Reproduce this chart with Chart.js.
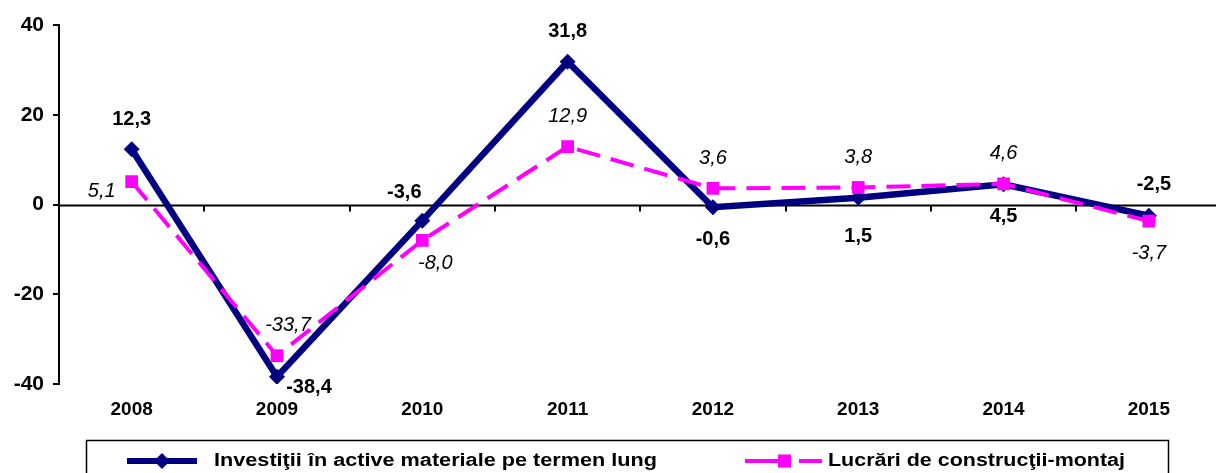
<!DOCTYPE html>
<html>
<head>
<meta charset="utf-8">
<script src="https://cdn.jsdelivr.net/npm/chart.js@4.4.0/dist/chart.umd.min.js"></script>
<style>
  html, body { margin: 0; padding: 0; background: #fff; }
  #wrap { width: 1216px; height: 473px; }
</style>
</head>
<body>
<div id="wrap"><canvas id="chart" width="1216" height="473"></canvas></div>
<script>
const years = ['2008', '2009', '2010', '2011', '2012', '2013', '2014', '2015'];
const investitii = [12.3, -38.4, -3.6, 31.8, -0.6, 1.5, 4.5, -2.5];
const lucrari = [5.1, -33.7, -8.0, 12.9, 3.6, 3.8, 4.6, -3.7];
const yTicks = [-40, -20, 0, 20, 40];

const seriesNames = ['Investiţii în active materiale pe termen lung', 'Lucrări de construcţii-montaj'];

// where each value label sits relative to its point
const investPlace = ['top', 'right', 'topLeft', 'top', 'bottom', 'bottomFar', 'bottom', 'topR'];
const lucrariPlace = ['left', 'topRight', 'bottomRight', 'top', 'top', 'top', 'top', 'bottom'];

const NAVY = '#000080';
const MAGENTA = '#FF00FF';
const FONT = "'Liberation Sans', Arial, sans-serif";

const offsets = {
    top: [0, -30], topR: [5, -31], bottom: [0, 32], bottomFar: [0, 39],
    left: [-30, 10], right: [32, 11], topLeft: [-18, -28],
    topRight: [11, -30], bottomRight: [13, 23]
};

const fmt = v => v.toFixed(1).replace('.', ',');
const toPoints = arr => arr.map((v, i) => ({ x: i, y: v }));

const zeroLine = {
    id: 'zeroLine',
    beforeDatasetsDraw(chart) {
        const { ctx, chartArea, scales } = chart;
        const y0 = Math.round(scales.y.getPixelForValue(0)) + 0.5;
        ctx.save();
        ctx.strokeStyle = '#000';
        ctx.lineWidth = 2;
        ctx.beginPath();
        ctx.moveTo(chartArea.left, y0);
        ctx.lineTo(chart.width, y0);
        for (let i = 1; i < years.length; i++) {
            const x = Math.round(scales.x.getPixelForValue(i - 0.5));
            ctx.moveTo(x, y0);
            ctx.lineTo(x, y0 + 6);
        }
        ctx.stroke();
        ctx.restore();
    }
};

const valueLabels = {
    id: 'valueLabels',
    afterDatasetsDraw(chart) {
        const { ctx } = chart;
        const setups = [
            { values: investitii, place: investPlace, font: 'bold 20px ' + FONT },
            { values: lucrari, place: lucrariPlace, font: 'italic 20px ' + FONT }
        ];
        ctx.save();
        ctx.fillStyle = '#000';
        ctx.textAlign = 'center';
        ctx.textBaseline = 'middle';
        setups.forEach((s, di) => {
            const meta = chart.getDatasetMeta(di);
            ctx.font = s.font;
            meta.data.forEach((pt, i) => {
                const [dx, dy] = offsets[s.place[i]];
                ctx.fillText(fmt(s.values[i]), pt.x + dx, pt.y + dy);
            });
        });
        ctx.restore();
    }
};

const boxLegend = {
    id: 'boxLegend',
    afterDraw(chart) {
        const { ctx } = chart;
        const ly = 461;
        ctx.save();
        ctx.strokeStyle = '#000';
        ctx.lineWidth = 1.5;
        ctx.strokeRect(86.5, 440.5, 1082, 40);

        // first entry
        ctx.strokeStyle = NAVY;
        ctx.lineWidth = 6;
        ctx.beginPath();
        ctx.moveTo(127, ly);
        ctx.lineTo(197, ly);
        ctx.stroke();
        ctx.fillStyle = NAVY;
        ctx.beginPath();
        ctx.moveTo(162, ly - 8);
        ctx.lineTo(170, ly);
        ctx.lineTo(162, ly + 8);
        ctx.lineTo(154, ly);
        ctx.closePath();
        ctx.fill();

        // second entry
        ctx.strokeStyle = MAGENTA;
        ctx.lineWidth = 4;
        ctx.beginPath();
        ctx.moveTo(745, ly);
        ctx.lineTo(790, ly);
        ctx.moveTo(799, ly);
        ctx.lineTo(822, ly);
        ctx.stroke();
        ctx.fillStyle = MAGENTA;
        ctx.fillRect(778, ly - 6.5, 13, 13);

        ctx.fillStyle = '#000';
        ctx.font = 'bold 18px ' + FONT;
        ctx.textBaseline = 'middle';
        ctx.textAlign = 'left';
        const drawStretched = (text, x, targetW) => {
            const w = ctx.measureText(text).width;
            ctx.save();
            ctx.translate(x, ly);
            ctx.scale(targetW / w, 1);
            ctx.fillText(text, 0, 0);
            ctx.restore();
        };
        drawStretched(seriesNames[0], 214, 443);
        drawStretched(seriesNames[1], 828, 297);
        ctx.restore();
    }
};

new Chart(document.getElementById('chart'), {
    type: 'line',
    data: {
        datasets: [
            {
                label: seriesNames[0],
                data: toPoints(investitii),
                borderColor: NAVY,
                backgroundColor: NAVY,
                borderWidth: 6.5,
                pointStyle: 'rectRot',
                pointRadius: 8,
                pointBackgroundColor: NAVY,
                pointBorderWidth: 0,
                tension: 0,
                order: 1
            },
            {
                label: seriesNames[1],
                data: toPoints(lucrari),
                borderColor: MAGENTA,
                backgroundColor: MAGENTA,
                borderWidth: 4,
                borderDash: [24, 11],
                pointStyle: 'rect',
                pointRadius: 9,
                pointBackgroundColor: MAGENTA,
                pointBorderWidth: 0,
                tension: 0,
                order: 0
            }
        ]
    },
    options: {
        responsive: false,
        animation: false,
        layout: { padding: { top: 25, right: 0, bottom: 0, left: 0 } },
        plugins: {
            legend: { display: false },
            tooltip: { enabled: false }
        },
        scales: {
            x: {
                type: 'linear',
                min: -0.5,
                max: years.length - 0.6,
                afterBuildTicks: s => { s.ticks = years.map((_, i) => ({ value: i })); },
                grid: { display: true, drawOnChartArea: false, drawTicks: true, tickLength: 14, color: 'rgba(0,0,0,0)' },
                border: { display: false },
                ticks: {
                    color: '#000',
                    font: { family: FONT, size: 19, weight: 'bold' },
                    padding: 0,
                    maxRotation: 0,
                    autoSkip: false,
                    callback: v => years[v]
                },
                afterFit: s => { s.height = 89; }
            },
            y: {
                min: -40,
                max: 40,
                afterBuildTicks: s => { s.ticks = yTicks.map(v => ({ value: v })); },
                grid: { drawOnChartArea: false, tickLength: 6, color: '#000', lineWidth: 2 },
                border: { color: '#000', width: 2 },
                ticks: { color: '#000', font: { family: FONT, size: 21, weight: 'bold' }, padding: 9 },
                afterFit: s => { s.width = 59; }
            }
        }
    },
    plugins: [zeroLine, valueLabels, boxLegend]
});
</script>
</body>
</html>
